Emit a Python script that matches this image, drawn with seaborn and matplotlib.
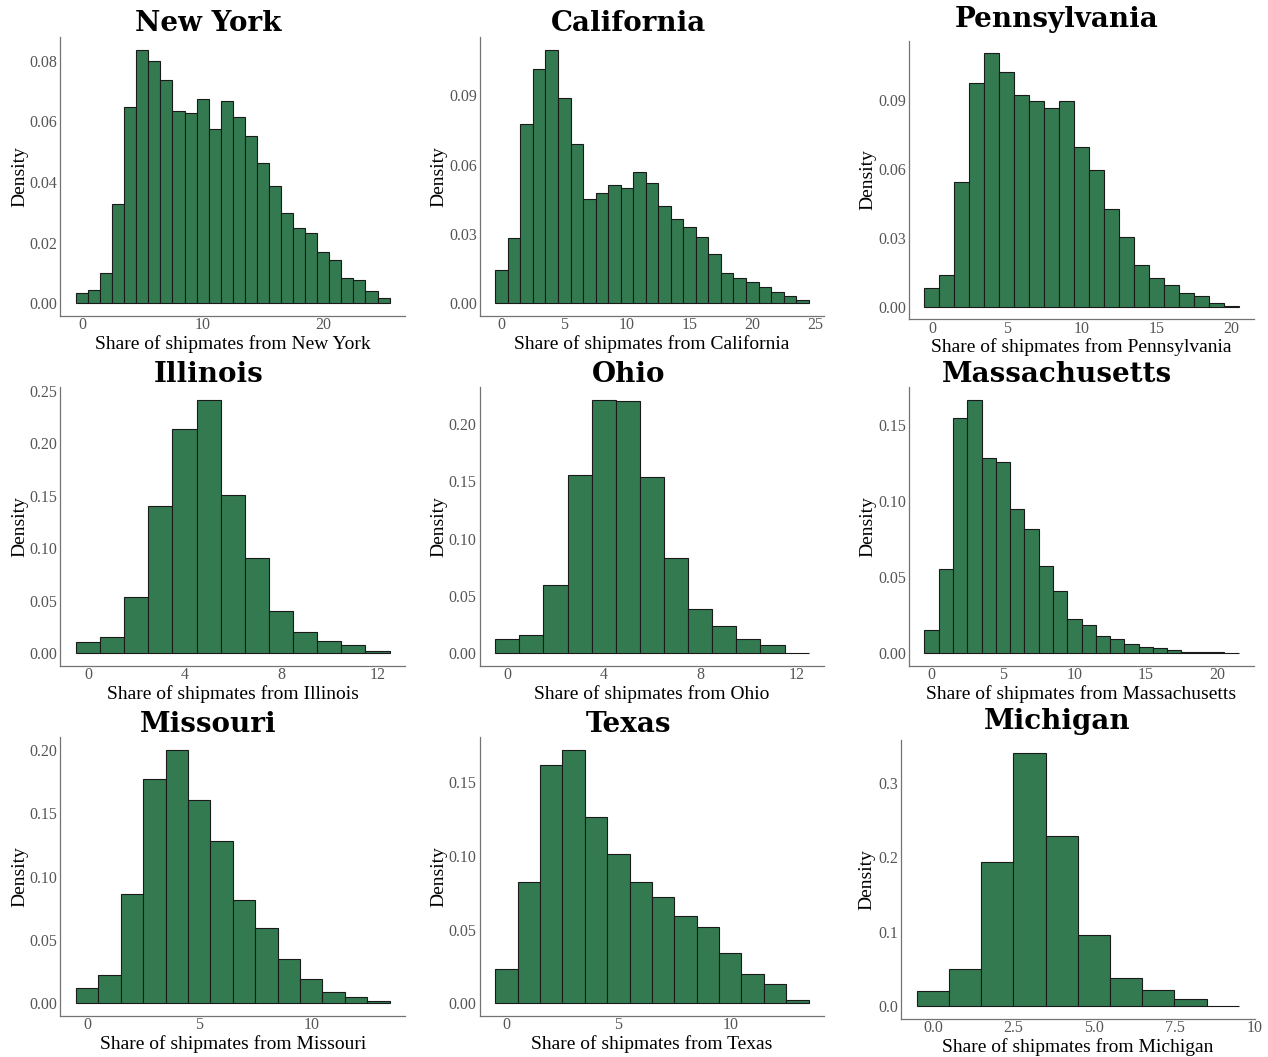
import numpy as np
import matplotlib
matplotlib.use("Agg")
import matplotlib.pyplot as plt
import seaborn as sns

# estados e densidades (barras centradas em 0, 1, 2, ...)
states = ["New York", "California", "Pennsylvania",
          "Illinois", "Ohio", "Massachusetts",
          "Missouri", "Texas", "Michigan"]

ny_density = [0.0035, 0.0044, 0.0101, 0.0328, 0.0647, 0.0836, 0.0801, 0.0736, 0.0635,
              0.0628, 0.0673, 0.0574, 0.0667, 0.0614, 0.0551, 0.0462, 0.0388, 0.0297,
              0.0247, 0.0233, 0.0170, 0.0144, 0.0084, 0.0078, 0.0042, 0.0016]
ca_density = [0.0142, 0.0281, 0.0774, 0.1013, 0.1095, 0.0888, 0.0688, 0.0451, 0.0477,
              0.0510, 0.0498, 0.0567, 0.0518, 0.0421, 0.0365, 0.0330, 0.0286, 0.0212,
              0.0133, 0.0108, 0.0093, 0.0069, 0.0047, 0.0030, 0.0013]
pa_density = [0.0080, 0.0136, 0.0543, 0.0973, 0.1103, 0.1023, 0.0922, 0.0894, 0.0867,
              0.0894, 0.0696, 0.0596, 0.0427, 0.0302, 0.0182, 0.0123, 0.0093, 0.0058,
              0.0045, 0.0017, 0.0003]
il_density = [0.0107, 0.0152, 0.0537, 0.1402, 0.2140, 0.2412, 0.1503, 0.0906, 0.0407,
              0.0205, 0.0120, 0.0076, 0.0019]
oh_density = [0.0127, 0.0159, 0.0595, 0.1558, 0.2208, 0.2199, 0.1540, 0.0829, 0.0382,
              0.0237, 0.0121, 0.0069, 0.0006]
ma_density = [0.0152, 0.0552, 0.1543, 0.1661, 0.1283, 0.1254, 0.0946, 0.0813, 0.0572,
              0.0407, 0.0226, 0.0187, 0.0115, 0.0091, 0.0063, 0.0043, 0.0037, 0.0022,
              0.0011, 0.0009, 0.0009, 0.0004]
mo_density = [0.0123, 0.0225, 0.0865, 0.1767, 0.2000, 0.1602, 0.1279, 0.0813, 0.0595,
              0.0346, 0.0194, 0.0092, 0.0052, 0.0018]
tx_density = [0.0236, 0.0821, 0.1617, 0.1718, 0.1266, 0.1010, 0.0821, 0.0724, 0.0589,
              0.0517, 0.0342, 0.0200, 0.0128, 0.0025]
mi_density = [0.0210, 0.0504, 0.1933, 0.3406, 0.2290, 0.0960, 0.0375, 0.0219, 0.0098,
              0.0009]

densities = [ny_density, ca_density, pa_density, il_density, oh_density,
             ma_density, mo_density, tx_density, mi_density]

# ticks de cada painel
x_ticks = [[0, 10, 20], [0, 5, 10, 15, 20, 25], [0, 5, 10, 15, 20],
           [0, 4, 8, 12], [0, 4, 8, 12], [0, 5, 10, 15, 20],
           [0, 5, 10], [0, 5, 10], [0, 2.5, 5, 7.5, 10]]
x_labels = [["0", "10", "20"], ["0", "5", "10", "15", "20", "25"],
            ["0", "5", "10", "15", "20"], ["0", "4", "8", "12"], ["0", "4", "8", "12"],
            ["0", "5", "10", "15", "20"], ["0", "5", "10"], ["0", "5", "10"],
            ["0.0", "2.5", "5.0", "7.5", "10"]]
y_ticks = [[0, 0.02, 0.04, 0.06, 0.08], [0, 0.03, 0.06, 0.09], [0, 0.03, 0.06, 0.09],
           [0, 0.05, 0.10, 0.15, 0.20, 0.25], [0, 0.05, 0.10, 0.15, 0.20],
           [0, 0.05, 0.10, 0.15], [0, 0.05, 0.10, 0.15, 0.20],
           [0, 0.05, 0.10, 0.15], [0, 0.1, 0.2, 0.3]]
y_labels = [["0.00", "0.02", "0.04", "0.06", "0.08"], ["0.00", "0.03", "0.06", "0.09"],
            ["0.00", "0.03", "0.06", "0.09"],
            ["0.00", "0.05", "0.10", "0.15", "0.20", "0.25"],
            ["0.00", "0.05", "0.10", "0.15", "0.20"], ["0.00", "0.05", "0.10", "0.15"],
            ["0.00", "0.05", "0.10", "0.15", "0.20"], ["0.00", "0.05", "0.10", "0.15"],
            ["0.0", "0.1", "0.2", "0.3"]]

sns.set_style("white")
plt.rcParams["font.family"] = ["Liberation Serif", "DejaVu Serif"]

W, H = 1268, 1057
fig = plt.figure(figsize=(W / 100, H / 100), dpi=100)
fig.patch.set_facecolor("white")

# caixas dos eixos em pixels: esquerda, direita, topo, base
boxes = [(60.3, 405.3, 37.3, 316), (479.7, 824.3, 37.3, 316), (908.7, 1254.3, 40.7, 319.3),
         (60.3, 405.3, 387.3, 666), (479.5, 824.3, 387.3, 666), (908.7, 1254.3, 387.3, 666),
         (60.3, 405.3, 737.3, 1016), (479.5, 824.3, 737.3, 1016), (900.7, 1255, 740, 1019)]
title_x = [208.5, 628.5, 1057]
title_base = [31, 31, 27, 381.7, 381.7, 381.7, 732.3, 732.3, 729.3]

bar_color = "#347a50"

for i, state in enumerate(states):
    l, r, t, b = boxes[i]
    ax = fig.add_axes([l / W, 1 - b / H, (r - l) / W, (b - t) / H])
    dens = densities[i]
    shares = np.arange(len(dens))
    sns.histplot(x=shares, weights=dens, discrete=True, stat="count",
                 color=bar_color, alpha=1, edgecolor="#1a1a1a", linewidth=0.8, ax=ax)

    # margens de 5% como no ggplot
    ax.use_sticky_edges = False
    ax.margins(0.05)
    ax.autoscale_view()

    ax.set_xticks(x_ticks[i])
    ax.set_xticklabels(x_labels[i])
    ax.set_yticks(y_ticks[i])
    ax.set_yticklabels(y_labels[i])
    ax.tick_params(length=0, labelsize=11.5, labelcolor="#555555")
    ax.tick_params(axis="x", pad=1)
    ax.tick_params(axis="y", pad=2)

    ax.set_xlabel("Share of shipmates from " + state, fontsize=14, color="black", labelpad=1)
    ax.set_ylabel("Density", fontsize=14, color="black")
    ax.yaxis.set_label_coords(-0.093 if i != 8 else -0.072, 0.5)

    for side in ["top", "right"]:
        ax.spines[side].set_visible(False)
    for side in ["left", "bottom"]:
        ax.spines[side].set_color("#737373")
        ax.spines[side].set_linewidth(0.9)

    fig.text(title_x[i % 3] / W, 1 - title_base[i] / H, state,
             ha="center", va="baseline", fontsize=20, fontweight="bold",
             family="DejaVu Serif", color="black")

plt.savefig("out.png", dpi=100, facecolor="white")
